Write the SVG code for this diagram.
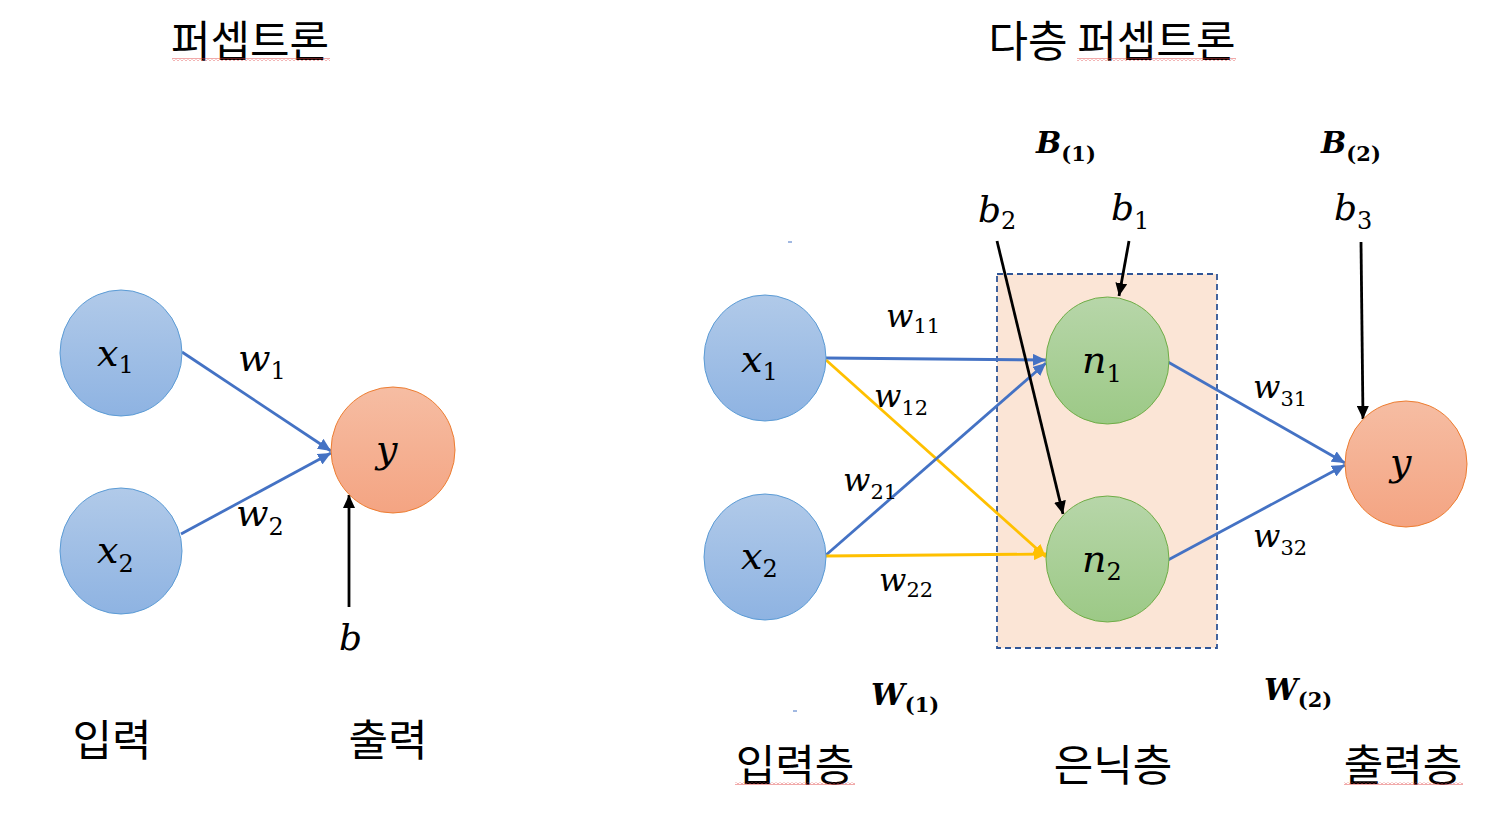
<svg xmlns="http://www.w3.org/2000/svg" width="1501" height="822" viewBox="0 0 1501 822">
<style>
.ko{font-family:"Noto Sans CJK KR","Noto Sans",sans-serif;font-size:43px;font-weight:400;fill:#000;}
.m{font-family:"DejaVu Serif","Liberation Serif",serif;font-style:italic;fill:#000;}
.d{font-style:normal;}
.bb{font-weight:bold;}
.blue{stroke:#4472C4;stroke-width:2.8;fill:none;}
.yel{stroke:#FFC000;stroke-width:2.8;fill:none;}
.blk{stroke:#000;stroke-width:2.8;fill:none;}
.nb{fill:url(#gb);stroke:#5B9BD5;stroke-width:1;}
.no{fill:url(#go);stroke:#ED7D31;stroke-width:1;}
.ng{fill:url(#gg);stroke:#70AD47;stroke-width:1;}
</style>
<defs>
<linearGradient id="gb" x1="0" y1="0" x2="0" y2="1"><stop offset="0" stop-color="#B1CAE9"/><stop offset="1" stop-color="#8EB3E2"/></linearGradient>
<linearGradient id="go" x1="0" y1="0" x2="0" y2="1"><stop offset="0" stop-color="#F6BDA3"/><stop offset="1" stop-color="#F4A482"/></linearGradient>
<linearGradient id="gg" x1="0" y1="0" x2="0" y2="1"><stop offset="0" stop-color="#B7D6A9"/><stop offset="1" stop-color="#9CC986"/></linearGradient>
<marker id="ab" markerUnits="userSpaceOnUse" markerWidth="14" markerHeight="12" refX="13" refY="6" orient="auto"><path d="M0,0 L13,6 L0,12 z" fill="#4472C4"/></marker>
<marker id="ay" markerUnits="userSpaceOnUse" markerWidth="14" markerHeight="12" refX="13" refY="6" orient="auto"><path d="M0,0 L13,6 L0,12 z" fill="#FFC000"/></marker>
<marker id="ak" markerUnits="userSpaceOnUse" markerWidth="14" markerHeight="12" refX="13" refY="6" orient="auto"><path d="M0,0 L13,6 L0,12 z" fill="#000"/></marker>
<pattern id="sq" width="4" height="3" patternUnits="userSpaceOnUse"><path d="M0,2.5 L2,0.5 L4,2.5" stroke="#E04040" stroke-width="0.9" fill="none"/></pattern>
</defs>
<rect width="1501" height="822" fill="#fff"/>

<g id="titles">
<text class="ko" x="250" y="57" text-anchor="middle">퍼셉트론</text>
<text class="ko" x="1112" y="57" text-anchor="middle">다층 퍼셉트론</text>
<text class="ko" x="112" y="756" text-anchor="middle">입력</text>
<text class="ko" x="388" y="756" text-anchor="middle">출력</text>
<text class="ko" x="795" y="781" text-anchor="middle">입력층</text>
<text class="ko" x="1113" y="781" text-anchor="middle">은닉층</text>
<text class="ko" x="1403" y="781" text-anchor="middle">출력층</text>
<rect x="172" y="58" width="158" height="3" fill="url(#sq)"/>
<rect x="1077" y="58" width="159" height="3" fill="url(#sq)"/>
<rect x="735" y="782" width="120" height="3" fill="url(#sq)"/>
<rect x="1344" y="782" width="119" height="3" fill="url(#sq)"/>
</g>

<g id="hidden-layer">
<rect x="997" y="274" width="220" height="374" fill="#FBE5D6" stroke="#2F5597" stroke-width="1.8" stroke-dasharray="6,4"/>
</g>

<g id="connectors">
<line class="blue" x1="182" y1="352" x2="331" y2="451" marker-end="url(#ab)"/>
<line class="blue" x1="181" y1="534" x2="331" y2="453" marker-end="url(#ab)"/>
<line class="blk" x1="349" y1="607" x2="349" y2="495" marker-end="url(#ak)"/>
<line class="blue" x1="826" y1="358" x2="1046" y2="360" marker-end="url(#ab)"/>
<line class="yel" x1="826" y1="360" x2="1046" y2="557" marker-end="url(#ay)"/>
<line class="blue" x1="826" y1="555" x2="1046" y2="363" marker-end="url(#ab)"/>
<line class="yel" x1="826" y1="556" x2="1047" y2="554" marker-end="url(#ay)"/>
<line class="blue" x1="1168" y1="362" x2="1345" y2="463" marker-end="url(#ab)"/>
<line class="blue" x1="1168" y1="560" x2="1345" y2="465" marker-end="url(#ab)"/>
<line class="blk" x1="1129" y1="241" x2="1119" y2="296" marker-end="url(#ak)"/>
<line class="blk" x1="997" y1="241" x2="1063" y2="514" marker-end="url(#ak)"/>
<line class="blk" x1="1361" y1="242" x2="1363" y2="419" marker-end="url(#ak)"/>
<line x1="788" y1="242" x2="792" y2="242" stroke="#4472C4" stroke-width="1"/>
<line x1="793" y1="711" x2="797" y2="711" stroke="#4472C4" stroke-width="1"/>
</g>

<g id="p-x1"><ellipse class="nb" cx="121" cy="353" rx="61" ry="63"/>
<text class="m" font-size="38" x="97" y="366">x<tspan class="d" dy="7" font-size="24">1</tspan></text></g>
<g id="p-x2"><ellipse class="nb" cx="121" cy="551" rx="61" ry="63"/>
<text class="m" font-size="38" x="97" y="563">x<tspan class="d" dy="9" font-size="24">2</tspan></text></g>
<g id="p-y"><ellipse class="no" cx="393" cy="450" rx="62" ry="63"/>
<text class="m" font-size="38" x="376" y="462">y</text></g>

<g id="m-x1"><ellipse class="nb" cx="765" cy="358" rx="61" ry="63"/>
<text class="m" font-size="38" x="741" y="372">x<tspan class="d" dy="8" font-size="24">1</tspan></text></g>
<g id="m-x2"><ellipse class="nb" cx="765" cy="557" rx="61" ry="63"/>
<text class="m" font-size="38" x="741" y="569">x<tspan class="d" dy="8" font-size="24">2</tspan></text></g>
<g id="m-n1"><ellipse class="ng" cx="1107.5" cy="360.5" rx="61.5" ry="63.5"/>
<text class="m" font-size="38" x="1082" y="373">n<tspan class="d" dy="9" font-size="24">1</tspan></text></g>
<g id="m-n2"><ellipse class="ng" cx="1107.5" cy="559" rx="61.5" ry="63"/>
<text class="m" font-size="38" x="1082" y="572">n<tspan class="d" dy="8" font-size="24">2</tspan></text></g>
<g id="m-y"><ellipse class="no" cx="1406" cy="464" rx="61" ry="63"/>
<text class="m" font-size="38" x="1390" y="475">y</text></g>

<g id="labels">
<text class="m" font-size="38" x="238" y="371">w<tspan class="d" dy="8" font-size="24">1</tspan></text>
<text class="m" font-size="38" x="236" y="526">w<tspan class="d" dy="9" font-size="24">2</tspan></text>
<text class="m" font-size="36" x="339" y="650">b</text>

<text class="m bb" font-size="30" x="1036" y="153">B<tspan class="d" dy="8" font-size="21">(1)</tspan></text>
<text class="m bb" font-size="30" x="1321" y="153">B<tspan class="d" dy="8" font-size="21">(2)</tspan></text>
<text class="m bb" font-size="30" x="871" y="705">W<tspan class="d" dy="7" font-size="21">(1)</tspan></text>
<text class="m bb" font-size="30" x="1264" y="700">W<tspan class="d" dy="7" font-size="21">(2)</tspan></text>

<text class="m" font-size="36" x="978" y="222">b<tspan class="d" dy="7" font-size="24">2</tspan></text>
<text class="m" font-size="36" x="1111" y="220">b<tspan class="d" dy="9" font-size="24">1</tspan></text>
<text class="m" font-size="36" x="1334" y="220">b<tspan class="d" dy="9" font-size="24">3</tspan></text>

<text class="m" font-size="32" x="886" y="327">w<tspan class="d" dy="6" font-size="21">11</tspan></text>
<text class="m" font-size="32" x="874" y="407">w<tspan class="d" dy="8" font-size="21">12</tspan></text>
<text class="m" font-size="32" x="843" y="491">w<tspan class="d" dy="8" font-size="21">21</tspan></text>
<text class="m" font-size="32" x="879" y="591">w<tspan class="d" dy="6" font-size="21">22</tspan></text>
<text class="m" font-size="32" x="1253" y="398">w<tspan class="d" dy="8" font-size="21">31</tspan></text>
<text class="m" font-size="32" x="1253" y="547">w<tspan class="d" dy="8" font-size="21">32</tspan></text>
</g>
</svg>
